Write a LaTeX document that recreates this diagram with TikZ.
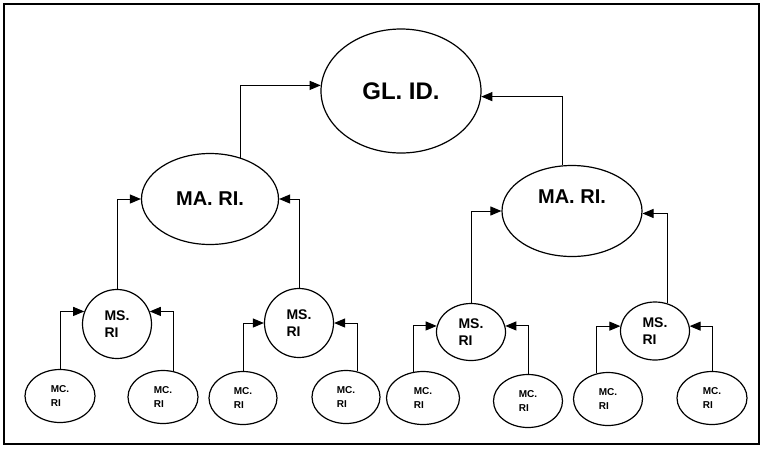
\documentclass[tikz,border=0pt]{standalone}
\usepackage{fontspec}
\setmainfont{Liberation Sans}
\usetikzlibrary{shapes,arrows.meta}

\begin{document}
\begin{tikzpicture}[x=1pt,y=-1pt]
      \tikzstyle{every node}=[ellipse,draw,line width=1.2pt,inner sep=0pt,align=left]
      \tikzstyle{glob}=[minimum width=160pt,minimum height=124pt,font=\bfseries\fontsize{24}{26}\selectfont]
      \tikzstyle{major}=[minimum width=137pt,minimum height=91pt,font=\bfseries\fontsize{20}{22}\selectfont]
      \tikzstyle{minor}=[minimum width=69pt,minimum height=69pt,font=\bfseries\fontsize{14}{17}\selectfont]
      \tikzstyle{micro}=[minimum width=70pt,minimum height=53pt,font=\bfseries\fontsize{10}{14}\selectfont]
      \tikzstyle{link}=[-{Triangle[length=11pt,width=9pt]},line width=1pt]
      \useasboundingbox (0,0) rectangle (763,448);
      \draw[line width=1.4pt] (4,4) rectangle (759,444);
      % top
      \node[glob] (gl) at (401,91) {GL. ID.};
      \node[major] (ma1) at (210,199) {MA. RI.};
      \node[major,minimum width=140pt,text depth=28pt] (ma2) at (572,211) {MA. RI.};
      % middle
      \node[minor] (ms1) at (117,324) {MS.\\RI};
      \node[minor] (ms2) at (299,323) {MS.\\RI};
      \node[minor,minimum height=57pt] (ms3) at (471,332) {MS.\\RI};
      \node[minor,minimum height=58pt] (ms4) at (655,331) {MS.\\RI};
      % bottom
      \node[micro] (mc1) at (60,396) {MC.\\RI};
      \node[micro] (mc2) at (163,397) {MC.\\RI};
      \node[micro,minimum width=68pt] (mc3) at (243,398) {MC.\\RI};
      \node[micro,minimum width=68pt] (mc4) at (346,397) {MC.\\RI};
      \node[micro,minimum width=73pt] (mc5) at (423,398) {MC.\\RI};
      \node[micro,minimum width=69pt] (mc6) at (528,401) {MC.\\RI};
      \node[micro,minimum width=69pt] (mc7) at (608,399) {MC.\\RI};
      \node[micro] (mc8) at (712,398) {MC.\\RI};
      % links
      \draw[link] (ma1.54) |- (gl.176);
      \draw[link] (ma2.102) |- (gl.-4);
      \draw[link] (ms1.north) |- (ma1.west);
      \draw[link] (ms2.north) |- (ma1.east);
      \draw[link] (ms3.north) |- (ma2.west);
      \draw[link] (ms4.66) |- (ma2.-2);
      \draw[link] (mc1.north) |- (ms1.159);
      \draw[link] (mc2.68) |- (ms1.21);
      \draw[link] (mc3.north) |- (ms2.west);
      \draw[link] (mc4.66) |- (ms2.east);
      \draw[link] (mc5.109) |- (ms3.170);
      \draw[link] (mc6.north) |- (ms3.10);
      \draw[link] (mc7.114) |- (ms4.172);
      \draw[link] (mc8.north) |- (ms4.8);
\end{tikzpicture}
\end{document}
